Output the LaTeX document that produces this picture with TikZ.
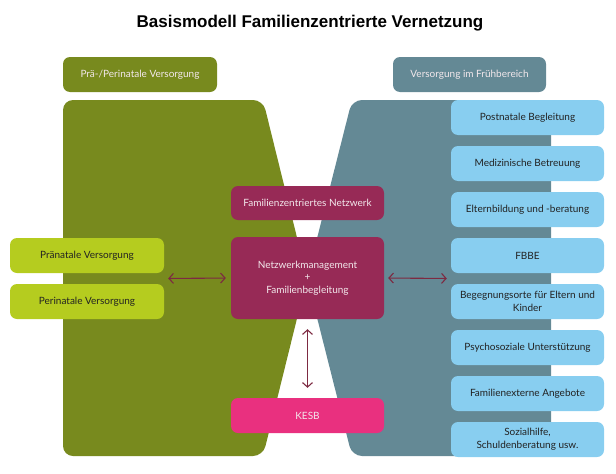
\documentclass[tikz,border=0pt]{standalone}
\usepackage{fontspec}
\setmainfont{Lato}
\newfontfamily\titlefont{Liberation Sans}
\usetikzlibrary{arrows.meta,calc}
\definecolor{olivebg}{HTML}{788A1E}
\definecolor{lightgreen}{HTML}{B5CC1F}
\definecolor{tealbg}{HTML}{648995}
\definecolor{lightblue}{HTML}{88CEF0}
\definecolor{maroon}{HTML}{972A56}
\definecolor{pinkbox}{HTML}{E9307F}
\definecolor{arrowcol}{HTML}{7D2A42}
\definecolor{darktext}{HTML}{222222}
\definecolor{lighttext}{HTML}{F3E8EC}
\tikzset{
  box/.style={rounded corners=7pt, minimum height=35pt, inner sep=2pt, align=center, font=\fontsize{10}{12.7}\selectfont},
  hdr/.style={box, fill=#1, text=lighttext, minimum width=154pt},
  bluebox/.style={box, fill=lightblue, text=darktext, minimum width=153pt},
  greenbox/.style={box, fill=lightgreen, text=darktext, minimum width=154pt},
  midbox/.style={box, fill=#1, text=lighttext, minimum width=153pt},
  link/.style={draw=arrowcol, line width=1.1pt, {Straight Barb[length=4.5pt,width=10pt]}-{Straight Barb[length=4.5pt,width=10pt]}}
}
\begin{document}
\begin{tikzpicture}[x=1pt,y=1pt]
\useasboundingbox (0,0) rectangle (616,-474);
% title
\node[font=\titlefont\bfseries\fontsize{17}{20}\selectfont] (title) at (310,-23) {Basismodell Familienzentrierte Vernetzung};
% background shapes
\fill[olivebg, rounded corners=10pt] (63,-100) -- (263,-100) -- (307,-278) -- (263,-456) -- (63,-456) -- cycle;
\fill[tealbg, rounded corners=10pt] (352,-100) -- (551,-100) -- (551,-456) -- (352,-456) -- (307,-278) -- cycle;
% headers
\node[hdr=olivebg] (lhead) at (140,-74.5) {Prä-/Perinatale Versorgung};
\node[hdr=tealbg, minimum width=153pt] (rhead) at (469.5,-74.5) {Versorgung im Frühbereich};
% right boxes
\node[bluebox] (b1) at (527.5,-117.5) {Postnatale Begleitung};
\node[bluebox] (b2) at (527.5,-163.5) {Medizinische Betreuung};
\node[bluebox] (b3) at (527.5,-209.5) {Elternbildung und -beratung};
\node[bluebox] (b4) at (527.5,-255.5) {FBBE};
\node[bluebox] (b5) at (527.5,-301.5) {Begegnungsorte für Eltern und\\Kinder};
\node[bluebox] (b6) at (527.5,-347.5) {Psychosoziale Unterstützung};
\node[bluebox] (b7) at (527.5,-393.5) {Familienexterne Angebote};
\node[bluebox] (b8) at (527.5,-439.5) {Sozialhilfe,\\Schuldenberatung usw.};
% left boxes
\node[greenbox] (g1) at (87,-255.5) {Pränatale Versorgung};
\node[greenbox] (g2) at (87,-301.5) {Perinatale Versorgung};
% middle boxes
\node[midbox=maroon, minimum height=34pt] (fn) at (307.5,-203) {Familienzentriertes Netzwerk};
\node[midbox=maroon, minimum height=82pt] (nm) at (307.5,-278) {Netzwerkmanagement\\+\\Familienbegleitung};
\node[midbox=pinkbox] (kesb) at (307.5,-415.5) {KESB};
% connectors
\coordinate (lgap) at ($(g1.south east)!0.5!(g2.north east)$);
\coordinate (rgap) at ($(b4.south west)!0.5!(b5.north west)$);
\draw[link, shorten <=4pt, shorten >=5pt] (lgap) -- (nm.west);
\draw[link, shorten <=4pt, shorten >=4pt] (nm.east) -- (rgap);
\draw[link, shorten <=10pt, shorten >=10pt] (nm.south) -- (kesb.north);
\end{tikzpicture}
\end{document}
